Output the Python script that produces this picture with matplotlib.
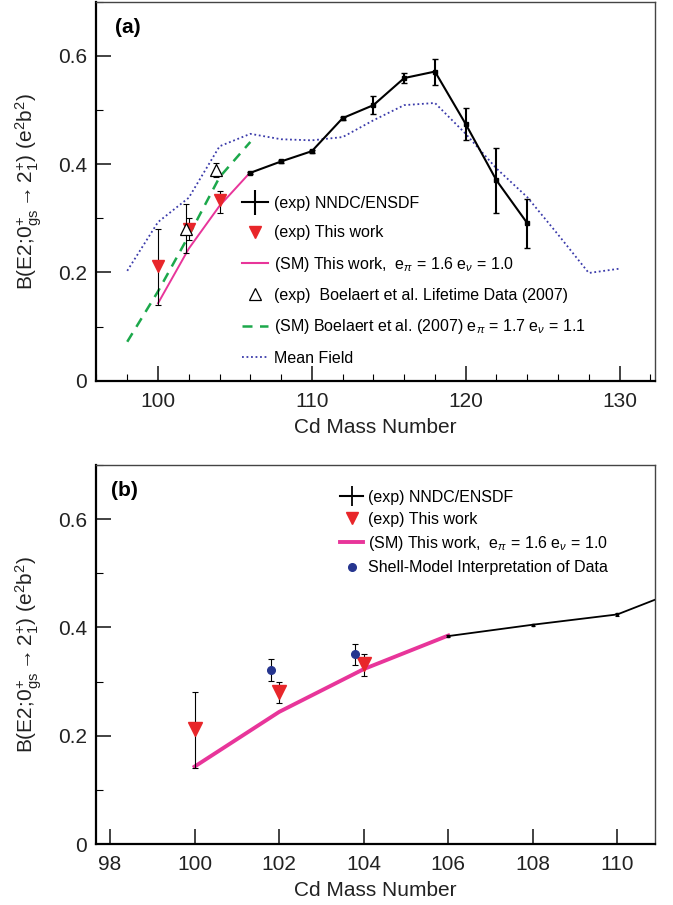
import matplotlib
matplotlib.use("Agg")
import matplotlib.pyplot as plt
from matplotlib.lines import Line2D
from matplotlib.ticker import MultipleLocator

plt.rcParams['font.family'] = ['Liberation Sans', 'DejaVu Sans']
plt.rcParams['mathtext.fontset'] = 'custom'
plt.rcParams['mathtext.rm'] = 'Liberation Sans'
plt.rcParams['mathtext.it'] = 'Liberation Sans:italic'

# NNDC/ENSDF adopted values
nndc_A = [106, 108, 110, 112, 114, 116, 118, 120, 122, 124]
nndc_B = [0.384, 0.405, 0.424, 0.485, 0.509, 0.559, 0.571, 0.474, 0.370, 0.291]
nndc_err = [0.002, 0.002, 0.003, 0.003, 0.016, 0.010, 0.024, 0.029, 0.060, 0.045]

# this work (exp)
this_A = [100, 102, 104]
this_B = [0.212, 0.281, 0.333]
this_lo = [0.072, 0.021, 0.023]
this_hi = [0.068, 0.019, 0.017]

# shell model, this work
sm_A = [100, 102, 104, 106]
sm_B = [0.143, 0.244, 0.323, 0.385]

# Boelaert et al. lifetimes
boel_A = [101.8, 103.8]
boel_B = [0.281, 0.389]
boel_err = [0.045, 0.013]

# Boelaert et al. shell model
bsm_A = [98, 100, 102, 104, 106]
bsm_B = [0.072, 0.165, 0.268, 0.376, 0.441]

# mean field
mf_A = [98, 100, 102, 104, 106, 108, 110, 112, 114, 116, 118, 120, 122, 124, 126, 128, 130]
mf_B = [0.203, 0.293, 0.338, 0.433, 0.456, 0.446, 0.444, 0.450, 0.481, 0.509,
        0.513, 0.456, 0.392, 0.339, 0.270, 0.199, 0.207]

# shell-model interpretation of data (panel b)
smi_A = [101.8, 103.8]
smi_B = [0.321, 0.350]
smi_err = [0.020, 0.020]

yticks = [0, 0.2, 0.4, 0.6]
ytick_labels = ['0', '0.2', '0.4', '0.6']

red = '#e8262a'
pink = '#e8359a'
green = '#1ca84b'
blue = '#3a3aaa'
navy = '#26358f'

ylab = r'B(E2;0$^{+}_{\mathrm{gs}}$$\rightarrow$2$^{+}_{1}$) (e$^{2}$b$^{2}$)'
sm_lab = r'(SM) This work,  e$_{\pi}$ = 1.6 e$_{\nu}$ = 1.0'
bsm_lab = r'(SM) Boelaert et al. (2007) e$_{\pi}$ = 1.7 e$_{\nu}$ = 1.1'

fig = plt.figure(figsize=(6.73, 9.05), dpi=100)
ax1 = fig.add_axes([0.1422, 0.5793, 0.831, 0.4188])
ax2 = fig.add_axes([0.1422, 0.0674, 0.831, 0.4188])


def style(ax):
    for s in ['left', 'bottom']:
        ax.spines[s].set_linewidth(1.6)
    for s in ['top', 'right']:
        ax.spines[s].set_linewidth(1.0)
        ax.spines[s].set_color('#444444')
    ax.set_ylim(0, 0.7)
    ax.set_yticks(yticks)
    ax.set_yticklabels(ytick_labels)
    ax.yaxis.set_minor_locator(MultipleLocator(0.1))
    ax.tick_params(which='major', direction='in', length=11, width=1.2,
                   labelsize=15, pad=6, colors='#222222')
    ax.tick_params(which='minor', direction='in', length=5, width=0.8)
    ax.tick_params(axis='x', pad=8)
    ax.set_xlabel('Cd Mass Number', fontsize=15, labelpad=5, color='#222222')
    ax.set_ylabel(ylab, fontsize=15, labelpad=10, color='#222222')


# ---- panel (a)
style(ax1)
ax1.set_xlim(95.95, 132.3)
ax1.set_xticks([100, 110, 120, 130])
ax1.xaxis.set_minor_locator(MultipleLocator(2))

ax1.plot(mf_A, mf_B, color=blue, lw=1.3, ls=(0, (1, 1.5)))
ax1.plot(bsm_A, bsm_B, color=green, lw=1.8, ls=(0, (4, 3)))
ax1.plot(sm_A, sm_B, color=pink, lw=1.4)
ax1.errorbar(nndc_A, nndc_B, yerr=nndc_err, color='k', lw=1.5, elinewidth=1.5,
             capsize=2, capthick=1.0, marker='s', ms=2.5)
ax1.errorbar(this_A, this_B, yerr=[this_lo, this_hi], fmt='none', ecolor='k',
             elinewidth=0.8, capsize=2, capthick=0.8)
ax1.plot(this_A, this_B, 'v', color=red, ms=9, zorder=5)
ax1.errorbar(boel_A, boel_B, yerr=boel_err, fmt='none', ecolor='k',
             elinewidth=0.8, capsize=2, capthick=0.8)
ax1.plot(boel_A, boel_B, '^', mfc='white', mec='k', mew=0.9, ms=8, zorder=5)

h = [Line2D([], [], color='k', lw=1.5, marker='|', ms=18, mew=1.5),
     Line2D([], [], ls='none', marker='v', color=red, ms=9),
     Line2D([], [], color=pink, lw=1.5),
     Line2D([], [], ls='none', marker='^', mfc='white', mec='k', mew=0.9, ms=8),
     Line2D([], [], color=green, lw=1.8, ls=(0, (4, 3))),
     Line2D([], [], color=blue, lw=1.3, ls=(0, (1, 1.5)))]
labs = ['(exp) NNDC/ENSDF', '(exp) This work', sm_lab,
        '(exp)  Boelaert et al. Lifetime Data (2007)', bsm_lab, 'Mean Field']
ax1.legend(h, labs, loc='upper left', bbox_to_anchor=(0.262, 0.488), frameon=False,
           fontsize=11.5, handlelength=1.6, handletextpad=0.4, labelspacing=0.9,
           borderpad=0, borderaxespad=0)
ax1.text(0.034, 0.933, '(a)', transform=ax1.transAxes, fontsize=15,
         fontweight='bold', va='center', ha='left')

# ---- panel (b)
style(ax2)
ax2.set_xlim(97.66, 110.89)
ax2.set_xticks([98, 100, 102, 104, 106, 108, 110])
ax2.tick_params(axis='x', which='minor', bottom=False)

ax2.plot(sm_A, sm_B, color=pink, lw=2.8)
ax2.errorbar(nndc_A, nndc_B, yerr=nndc_err, color='k', lw=1.3, elinewidth=1.0,
             capsize=1.5, capthick=0.8, marker='s', ms=2)
ax2.errorbar(this_A, this_B, yerr=[this_lo, this_hi], fmt='none', ecolor='k',
             elinewidth=0.8, capsize=2, capthick=0.8)
ax2.plot(this_A, this_B, 'v', color=red, ms=9.5, zorder=5)
ax2.errorbar(smi_A, smi_B, yerr=smi_err, fmt='none', ecolor='k',
             elinewidth=0.8, capsize=2, capthick=0.8)
ax2.plot(smi_A, smi_B, 'o', color=navy, ms=5.5, zorder=5)

h2 = [Line2D([], [], color='k', lw=1.5, marker='|', ms=14, mew=1.3),
      Line2D([], [], ls='none', marker='v', color=red, ms=9),
      Line2D([], [], color=pink, lw=2.8),
      Line2D([], [], ls='none', marker='o', color=navy, ms=5.5)]
labs2 = ['(exp) NNDC/ENSDF', '(exp) This work', sm_lab,
         'Shell-Model Interpretation of Data']
ax2.legend(h2, labs2, loc='upper left', bbox_to_anchor=(0.436, 0.935), frameon=False,
           fontsize=11.5, handlelength=1.5, handletextpad=0.3, labelspacing=0.45,
           borderpad=0, borderaxespad=0)
ax2.text(0.027, 0.934, '(b)', transform=ax2.transAxes, fontsize=15,
         fontweight='bold', va='center', ha='left')

fig.savefig('out.png', dpi=100)
